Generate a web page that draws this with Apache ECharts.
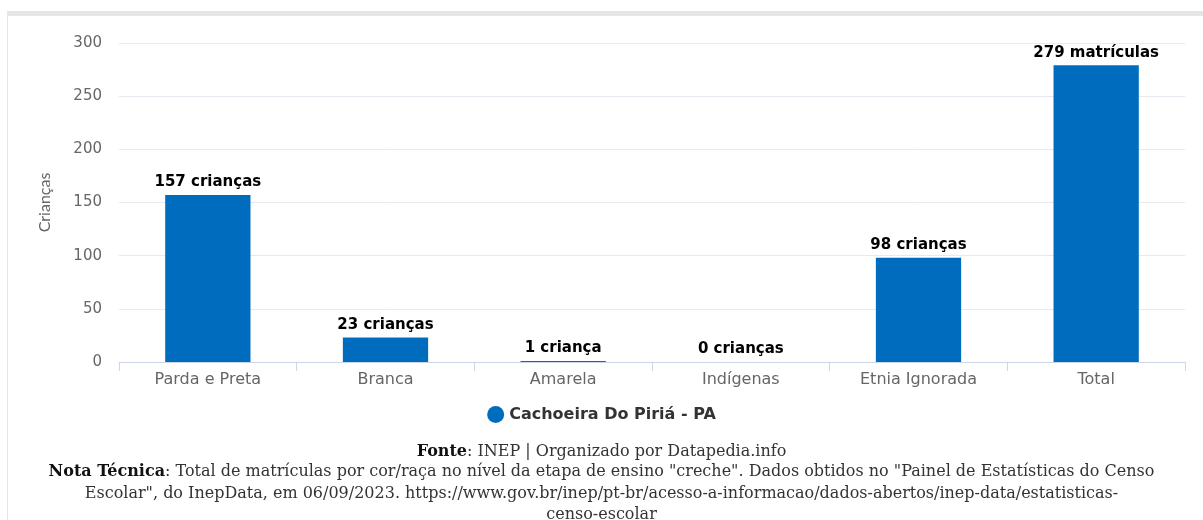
<!DOCTYPE html>
<html><head><meta charset="utf-8">
<script src="https://cdn.jsdelivr.net/npm/echarts@6/dist/echarts.min.js"></script>
<style>
html,body{margin:0;padding:0;background:#fff;}
#frame{position:absolute;left:7px;top:11px;width:1196px;height:509px;border-top:5px solid #e6e6e6;border-left:1px solid #e6e6e6;box-sizing:border-box;}
#chart{position:absolute;left:0;top:0;width:1203px;height:520px;}
</style></head>
<body>
<div id="frame"></div>
<div id="chart"></div>
<script>
const categories = ["Parda e Preta", "Branca", "Amarela", "Indígenas", "Etnia Ignorada", "Total"];
const values = [157, 23, 1, 0, 98, 279];
const labelUnits = ["crianças", "crianças", "criança", "crianças", "crianças", "matrículas"];
const yTicks = [0, 50, 100, 150, 200, 250, 300];
const seriesName = "Cachoeira Do Piriá - PA";
const yAxisName = "Crianças";
const footerLines = [
  '{b|Fonte}: INEP | Organizado por Datapedia.info',
  '{b|Nota Técnica}: Total de matrículas por cor/raça no nível da etapa de ensino "creche". Dados obtidos no "Painel de Estatísticas do Censo',
  'Escolar", do InepData, em 06/09/2023. https://www.gov.br/inep/pt-br/acesso-a-informacao/dados-abertos/inep-data/estatisticas-',
  'censo-escolar'
];

const sans = "'DejaVu Sans', sans-serif";
const serif = "'DejaVu Serif', serif";

const footerTops = [444, 464, 486, 507];
const titles = footerLines.map((t, i) => ({
  left: 'center', top: footerTops[i], text: t, padding: 0,
  textStyle: {
    fontFamily: serif, fontSize: 16, fontWeight: 'normal', color: '#333',
    rich: {b: {fontFamily: serif, fontSize: 16, fontWeight: 'bold', color: '#111'}}
  }
}));

const chart = echarts.init(document.getElementById('chart'), null, {renderer: 'canvas'});
chart.setOption({
  animation: false,
  backgroundColor: 'transparent',
  grid: {left: 119, right: 18, top: 43, bottom: 158, containLabel: false},
  legend: {
    data: [seriesName], top: 401, left: 'center', icon: 'circle', itemWidth: 17, itemHeight: 17, itemGap: 6,
    textStyle: {fontFamily: sans, fontWeight: 'bold', fontSize: 16, color: '#333'}
  },
  xAxis: {
    type: 'category', data: categories,
    axisLine: {lineStyle: {color: '#ccd6eb'}},
    axisTick: {show: true, length: 9, lineStyle: {color: '#ccd6eb'}},
    axisLabel: {fontFamily: sans, fontSize: 16, color: '#666', margin: 10}
  },
  yAxis: {
    type: 'value', min: yTicks[0], max: yTicks[yTicks.length - 1], interval: 50,
    name: yAxisName, nameLocation: 'middle', nameGap: 66, nameRotate: 90,
    nameTextStyle: {fontFamily: "Lato, sans-serif", fontSize: 16, color: '#666'},
    axisLine: {show: false}, axisTick: {show: false},
    axisLabel: {fontFamily: sans, fontSize: 15, color: '#666', margin: 17},
    splitLine: {lineStyle: {color: '#e6e9ef'}}
  },
  series: [{
    name: seriesName, type: 'bar', data: values, barWidth: '48%',
    itemStyle: {color: '#006cbe'},
    label: {
      show: true, position: 'top', distance: 5,
      fontFamily: sans, fontWeight: 'bold', fontSize: 15, color: '#000',
      formatter: p => p.value + ' ' + labelUnits[p.dataIndex]
    }
  }],
  title: titles
});
</script>
</body></html>
